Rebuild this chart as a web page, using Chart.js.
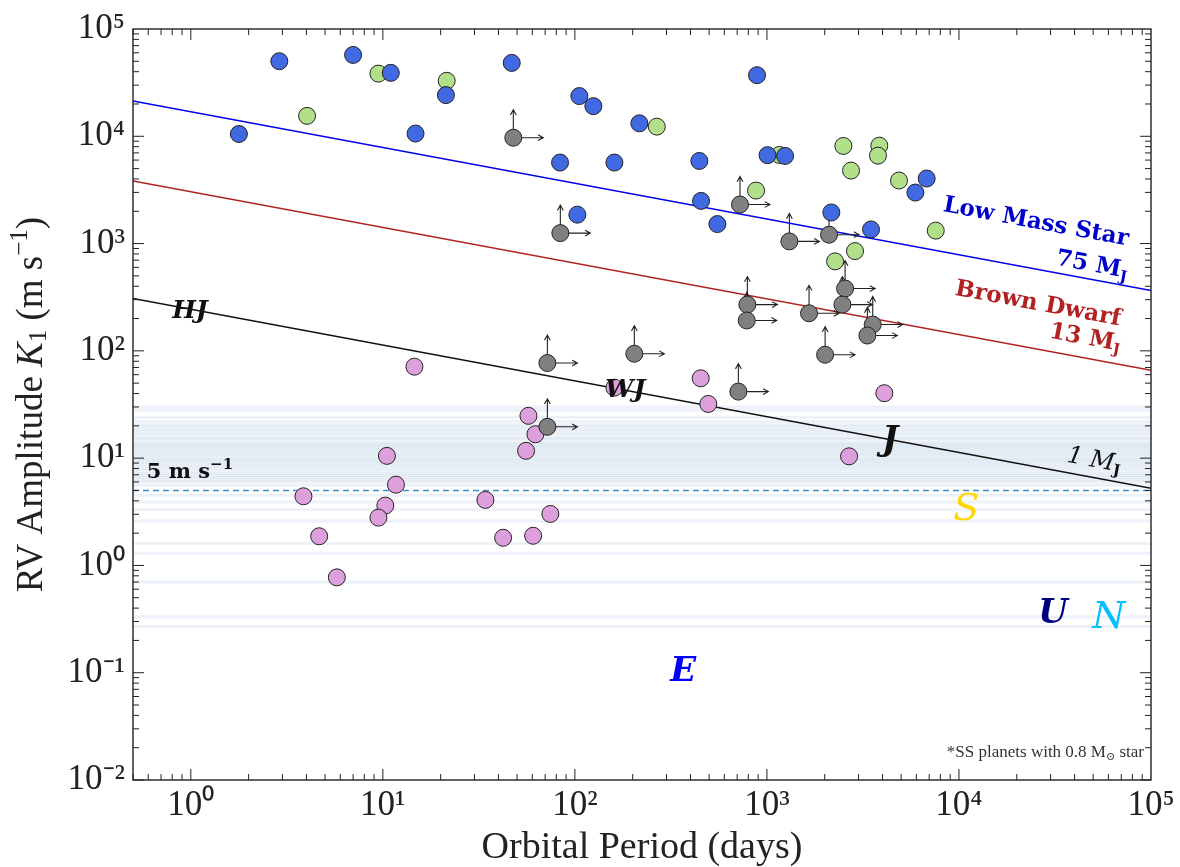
<!DOCTYPE html>
<html>
<head>
<meta charset="utf-8">
<script src="https://cdn.jsdelivr.net/npm/chart.js@4.4.1/dist/chart.umd.min.js"></script>
<style>
  body { margin: 0; background: #fff; }
  #wrap { width: 1180px; height: 867px; }
</style>
</head>
<body>
<div id="wrap"><canvas id="rvChart"></canvas></div>
<script>
// stellar companions (blue)
const starPeriod = [1.78, 2.89, 7.0, 11.0, 14.8, 21.3, 46.9, 105.5, 124.8, 216.7, 83.7, 160.6, 444.7, 888, 1007, 1243, 454, 552, 103, 2165, 3484, 5930, 6790];
const starK = [10500, 50100, 57300, 39000, 10600, 24200, 48300, 23700, 19100, 13200, 5690, 5690, 5890, 37100, 6670, 6560, 2500, 1520, 1860, 1950, 1355, 2990, 4040];

// brown dwarfs (green)
const bdPeriod = [4.03, 9.48, 21.5, 267, 1161, 878, 2500, 3848, 3787, 2742, 4874, 7570, 2876, 2264];
const bdK = [15500, 38400, 32900, 12300, 6700, 3120, 8130, 8180, 6600, 4790, 3870, 1320, 851, 683];

// lower limits (grey, with arrows)
const limitPeriod = [47.8, 84, 724, 1309, 2106, 2553, 2472, 791, 785, 1657, 3556, 3335, 2009, 204, 71.9, 710, 71.9];
const limitK = [9700, 1252, 2313, 1048, 1210, 381, 270, 270, 192, 224, 176, 139, 92, 94, 77, 41.7, 19.6];

// planets (pink)
const planetPeriod = [14.6, 160.6, 452, 495, 4087, 2678, 57.3, 62.3, 55.7, 10.5, 11.7, 10.3, 9.48, 34.2, 74.5, 42.3, 60.6, 3.86, 4.66, 5.76];
const planetK = [71.2, 45.4, 55.5, 32.0, 40.3, 10.4, 24.8, 16.7, 11.7, 10.5, 5.66, 3.61, 2.79, 4.08, 3.02, 1.81, 1.89, 4.41, 1.87, 0.774];

// mass lines, K at the two ends of the period range
const linePeriod = [0.5, 1e5];
const lowMassK = [21300, 365];
const brownDwarfK = [3840, 66];
const jupiterK = [307, 5.23];
const limitLineK = 5;

// RV precision of the survey stars
const precisionK = [30, 28, 24, 22, 20.5, 19.5, 18.5, 17.5, 16.5, 15.5, 15, 14, 13.5, 13, 12.5, 12, 11.5, 11, 10.5, 10,
  9.6, 9.2, 8.8, 8.4, 8, 7.6, 7.2, 6.9, 6.6, 6.3, 6, 5.6, 4.5, 3.9, 3.3, 2.6, 1.6, 1.3, 0.7, 0.33, 0.27];

const xTicks = [1, 10, 100, 1e3, 1e4, 1e5];
const yTicks = [1e-2, 1e-1, 1, 10, 100, 1e3, 1e4, 1e5];

const SUP = { '0': '⁰', '1': '¹', '2': '²', '3': '³', '4': '⁴', '5': '⁵', '-': '⁻' };
const powLabel = v => '10' + String(Math.round(Math.log10(v))).split('').map(c => SUP[c]).join('');

const pts = (xs, ys) => xs.map((x, i) => ({ x: x, y: ys[i] }));

const SERIF = "'Liberation Serif', serif";
const DJ = "'DejaVu Serif', serif";

function drawRich(ctx, parts, x, y, align) {
  let total = 0;
  parts.forEach(p => { ctx.font = p.font; p.w = ctx.measureText(p.text).width; total += p.w; });
  let cx = align === 'center' ? x - total / 2 : align === 'right' ? x - total : x;
  ctx.textAlign = 'left';
  parts.forEach(p => { ctx.font = p.font; ctx.fillText(p.text, cx, y + (p.dy || 0)); cx += p.w; });
}

function arrow(ctx, x0, y0, x1, y1) {
  const a = Math.atan2(y1 - y0, x1 - x0), h = 6;
  ctx.beginPath();
  ctx.moveTo(x0, y0); ctx.lineTo(x1, y1);
  ctx.moveTo(x1 - h * Math.cos(a - 0.5), y1 - h * Math.sin(a - 0.5));
  ctx.lineTo(x1, y1);
  ctx.lineTo(x1 - h * Math.cos(a + 0.5), y1 - h * Math.sin(a + 0.5));
  ctx.stroke();
}

const limitArrows = {
  id: 'limitArrows',
  beforeDatasetDraw(chart, args) {
    if (chart.data.datasets[args.index].label !== 'limits') return;
    const ctx = chart.ctx;
    ctx.save();
    ctx.strokeStyle = '#222';
    ctx.lineWidth = 1.1;
    args.meta.data.forEach(p => {
      arrow(ctx, p.x, p.y, p.x, p.y - 28);
      arrow(ctx, p.x, p.y, p.x + 30, p.y);
    });
    ctx.restore();
  }
};

const frameTicks = {
  id: 'frameTicks',
  afterDatasetsDraw(chart) {
    const { ctx, chartArea: a, scales: { x, y } } = chart;
    ctx.save();
    ctx.strokeStyle = '#222';
    ctx.lineWidth = 1;
    ctx.beginPath();
    for (let e = -1; e <= 4; e++) {
      for (let m = 1; m <= 9; m++) {
        const v = m * Math.pow(10, e);
        if (v < 0.5 || v > 1e5) continue;
        const px = x.getPixelForValue(v), len = m === 1 ? 11 : 6;
        ctx.moveTo(px, a.bottom); ctx.lineTo(px, a.bottom - len);
        ctx.moveTo(px, a.top); ctx.lineTo(px, a.top + len);
      }
    }
    for (let e = -2; e <= 4; e++) {
      for (let m = 1; m <= 9; m++) {
        const v = m * Math.pow(10, e);
        const py = y.getPixelForValue(v), len = m === 1 ? 11 : 6;
        ctx.moveTo(a.left, py); ctx.lineTo(a.left + len, py);
        ctx.moveTo(a.right, py); ctx.lineTo(a.right - len, py);
      }
    }
    ctx.stroke();
    ctx.lineWidth = 1.4;
    ctx.strokeRect(a.left, a.top, a.right - a.left, a.bottom - a.top);
    ctx.restore();
  }
};

const labels = {
  id: 'labels',
  afterDatasetsDraw(chart) {
    const { ctx, chartArea: a, scales: { x, y } } = chart;
    const ang = Math.atan2(y.getPixelForValue(lowMassK[1]) - y.getPixelForValue(lowMassK[0]),
      x.getPixelForValue(linePeriod[1]) - x.getPixelForValue(linePeriod[0]));
    const put = (px, py, rot, color, parts) => {
      ctx.save();
      ctx.translate(x.getPixelForValue(px), y.getPixelForValue(py));
      ctx.rotate(rot ? ang : 0);
      ctx.fillStyle = color;
      ctx.textBaseline = 'middle';
      drawRich(ctx, parts, 0, 0, 'center');
      ctx.restore();
    };
    const bold = s => 'bold ' + s + 'px ' + DJ;
    const bi = s => 'italic bold ' + s + 'px ' + DJ;
    const it = s => 'italic ' + s + 'px ' + DJ;

    put(25200, 1574, true, '#0000cd', [{ text: 'Low Mass Star', font: bold(23) }]);
    put(49300, 627, true, '#0000cd', [{ text: '75 M', font: bold(23) }, { text: 'J', font: bold(15), dy: 6 }]);
    put(25800, 272, true, '#b22222', [{ text: 'Brown Dwarf', font: bold(23) }]);
    put(45400, 131, true, '#b22222', [{ text: '13 M', font: bold(23) }, { text: 'J', font: bold(15), dy: 6 }]);
    put(50600, 9.46, true, '#111', [{ text: '1 ', font: it(24) }, { text: 'M', font: it(24) }, { text: 'J', font: bold(15), dy: 6 }]);
    put(0.99, 234, false, '#111', [{ text: 'HJ', font: bi(25) }]);
    put(183, 42.3, false, '#111', [{ text: 'WJ', font: bi(25) }]);
    put(4375, 14.5, false, '#111', [{ text: 'J', font: bi(34) }]);
    put(10900, 3.25, false, '#ffd700', [{ text: 'S', font: it(38) }]);
    put(30900, 0.35, false, '#000080', [{ text: 'U', font: bi(34) }]);
    put(60400, 0.32, false, '#00bfff', [{ text: 'N', font: it(38) }]);
    put(366, 0.101, false, '#0000ff', [{ text: 'E', font: bi(34) }]);

    // 5 m/s label
    ctx.save();
    ctx.fillStyle = '#111';
    ctx.textBaseline = 'middle';
    drawRich(ctx, [{ text: '5 m s', font: bold(21) }, { text: '−1', font: bold(15), dy: -7 }],
      x.getPixelForValue(0.59), y.getPixelForValue(7.4), 'left');

    // note
    ctx.fillStyle = '#333';
    drawRich(ctx, [{ text: '*SS planets with 0.8 M', font: '17px ' + SERIF }, { text: '⊙', font: '11px ' + DJ, dy: 4 },
      { text: ' star', font: '17px ' + SERIF }], a.right - 7, a.bottom - 27, 'right');

    // y axis title
    ctx.translate(32, (a.top + a.bottom) / 2);
    ctx.rotate(-Math.PI / 2);
    ctx.fillStyle = '#222';
    drawRich(ctx, [
      { text: 'RV Amplitude ', font: '37px ' + SERIF },
      { text: 'K', font: 'italic 37px ' + SERIF },
      { text: '1', font: '25px ' + SERIF, dy: 7 },
      { text: ' (m s', font: '37px ' + SERIF },
      { text: '−1', font: '25px ' + SERIF, dy: -12 },
      { text: ')', font: '37px ' + SERIF }
    ], 0, 0, 'center');
    ctx.restore();
  }
};

const massLine = (k, color, order) => ({
  type: 'line', data: pts(linePeriod, k), borderColor: color, borderWidth: 1.5,
  pointRadius: 0, fill: false, order: order
});

const datasets = [
  { label: 'stars', data: pts(starPeriod, starK), backgroundColor: '#4169e1', order: 1 },
  { label: 'bd', data: pts(bdPeriod, bdK), backgroundColor: '#b2df8a', order: 2 },
  { label: 'limits', data: pts(limitPeriod, limitK), backgroundColor: '#808080', order: 3 },
  { label: 'planets', data: pts(planetPeriod, planetK), backgroundColor: '#dda0dd', order: 4 },
  massLine(lowMassK, '#0000ee', 10),
  massLine(brownDwarfK, '#b22222', 10),
  massLine(jupiterK, '#111', 10),
  {
    type: 'line', data: pts(linePeriod, [limitLineK, limitLineK]), borderColor: '#3c8dc8',
    borderWidth: 1.6, borderDash: [6, 4], pointRadius: 0, order: 11
  }
];
precisionK.forEach(k => datasets.push({
  type: 'line', data: pts(linePeriod, [k, k]), borderColor: 'rgba(70,130,180,0.1)',
  borderWidth: 3, pointRadius: 0, order: 20
}));

Chart.defaults.color = '#222';

new Chart(document.getElementById('rvChart').getContext('2d'), {
  type: 'scatter',
  data: { datasets: datasets },
  plugins: [limitArrows, frameTicks, labels],
  options: {
    responsive: true,
    maintainAspectRatio: false,
    animation: false,
    layout: { padding: { top: 27, right: 29, left: 0, bottom: 0 } },
    elements: { point: { radius: 8.5, borderWidth: 1, borderColor: '#222' } },
    plugins: { legend: { display: false }, tooltip: { enabled: false } },
    scales: {
      x: {
        type: 'logarithmic', min: 0.5, max: 1e5,
        afterBuildTicks: s => { s.ticks = xTicks.map(v => ({ value: v })); },
        afterFit: s => { s.height = 87; },
        grid: { display: false, drawTicks: false },
        border: { display: false },
        ticks: { callback: powLabel, autoSkip: false, maxRotation: 0, padding: 5, color: '#222',
          font: { family: SERIF, size: 35 } },
        title: { display: true, text: 'Orbital Period (days)', color: '#222', padding: { top: 0, bottom: 0 },
          font: { family: SERIF, size: 38, lineHeight: 1 } }
      },
      y: {
        type: 'logarithmic', min: 1e-2, max: 1e5,
        afterBuildTicks: s => { s.ticks = yTicks.map(v => ({ value: v })); },
        afterFit: s => { s.width = 133; },
        grid: { display: false, drawTicks: false },
        border: { display: false },
        ticks: { callback: powLabel, autoSkip: false, padding: 8, color: '#222',
          font: { family: SERIF, size: 35 } }
      }
    }
  }
});
</script>
</body>
</html>
